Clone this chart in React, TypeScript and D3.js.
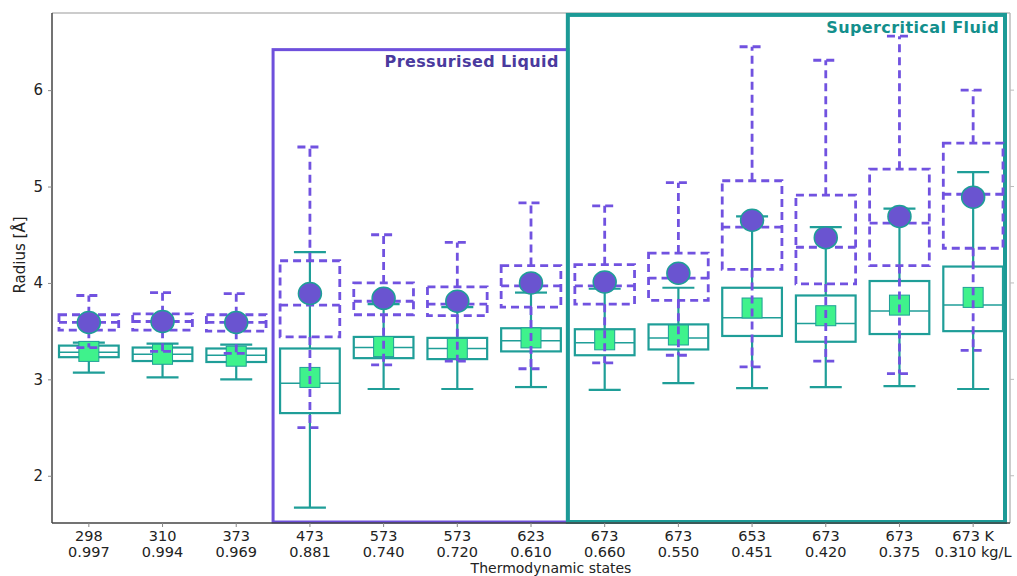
import React, { useEffect, useRef } from 'react';
import * as d3 from 'd3';

// thermodynamic states (temperature / density)
const temperatures = ['298', '310', '373', '473', '573', '573', '623', '673', '673', '653', '673', '673', '673 K'];
const densities = ['0.997', '0.994', '0.969', '0.881', '0.740', '0.720', '0.610', '0.660', '0.550', '0.451', '0.420', '0.375', '0.310 kg/L'];

// solid teal box plots
const tealLow = [3.07, 3.02, 3.00, 1.67, 2.90, 2.90, 2.92, 2.89, 2.96, 2.91, 2.92, 2.93, 2.90];
const tealQ1 = [3.23, 3.19, 3.18, 2.65, 3.22, 3.21, 3.29, 3.25, 3.31, 3.45, 3.39, 3.47, 3.50];
const tealMedian = [3.28, 3.26, 3.25, 2.96, 3.33, 3.32, 3.40, 3.38, 3.43, 3.64, 3.58, 3.71, 3.77];
const tealQ3 = [3.35, 3.33, 3.32, 3.32, 3.44, 3.43, 3.53, 3.52, 3.57, 3.95, 3.87, 4.02, 4.17];
const tealHigh = [3.38, 3.37, 3.36, 4.32, 3.78, 3.75, 3.90, 3.94, 3.95, 4.69, 4.58, 4.77, 5.15];
const tealMean = [3.29, 3.26, 3.24, 3.02, 3.34, 3.32, 3.43, 3.41, 3.46, 3.74, 3.66, 3.77, 3.85];

// dashed purple box plots
const purpleLow = [3.33, 3.29, 3.27, 2.50, 3.15, 3.19, 3.11, 3.17, 3.25, 3.13, 3.19, 3.06, 3.30];
const purpleQ1 = [3.51, 3.51, 3.50, 3.44, 3.67, 3.66, 3.75, 3.78, 3.82, 4.14, 3.99, 4.18, 4.36];
const purpleMedian = [3.59, 3.60, 3.59, 3.77, 3.81, 3.78, 3.97, 3.97, 4.05, 4.58, 4.37, 4.62, 4.92];
const purpleQ3 = [3.67, 3.68, 3.67, 4.23, 4.00, 3.96, 4.18, 4.19, 4.31, 5.06, 4.91, 5.18, 5.45];
const purpleHigh = [3.87, 3.90, 3.89, 5.41, 4.50, 4.42, 4.83, 4.80, 5.04, 6.45, 6.31, 6.56, 6.00];
const purpleMean = [3.59, 3.60, 3.59, 3.89, 3.84, 3.81, 4.00, 4.01, 4.10, 4.65, 4.47, 4.69, 4.89];

const yTicks = [2, 3, 4, 5, 6];

// phase regions: first / last state index and top value
const regionNames = ['Pressurised Liquid', 'Supercritical Fluid'];
const regionStart = [3, 7];
const regionEnd = [6, 12];
const regionTop = [6.42, 6.78];

const TEAL = '#1f9e98';
const PURPLE = '#7152e0';
const FONT = 'DejaVu Sans, sans-serif';

function App() {
  const ref = useRef<SVGSVGElement>(null);

  useEffect(() => {
    const width = 1017;
    const height = 576;
    const margin = { top: 13, right: 7, bottom: 53, left: 52 };

    const svg = d3.select(ref.current);
    svg.selectAll('*').remove();

    const idx = temperatures.map((_, i) => i);
    const x = d3.scaleBand<number>()
      .domain(idx)
      .range([margin.left, width - margin.right])
      .padding(0);
    const bw = x.bandwidth();
    const cx = (i: number) => (x(i) as number) + bw / 2;

    const y = d3.scaleLinear()
      .domain([1.51, 6.8])
      .range([height - margin.bottom, margin.top]);

    // spines
    const top = margin.top, bottom = height - margin.bottom;
    const left = margin.left, right = width - margin.right;
    svg.append('line').attr('x1', left).attr('x2', right).attr('y1', top).attr('y2', top)
      .attr('stroke', '#bbb').attr('stroke-width', 1.5);
    svg.append('line').attr('x1', right).attr('x2', right).attr('y1', top).attr('y2', bottom)
      .attr('stroke', '#bbb').attr('stroke-width', 1.5);
    yTicks.forEach(t => {
      svg.append('line').attr('x1', right).attr('x2', right + 4).attr('y1', y(t)).attr('y2', y(t))
        .attr('stroke', '#bbb');
    });

    // phase regions
    regionNames.forEach((name, r) => {
      const x0 = x(regionStart[r]) as number;
      const x1 = (x(regionEnd[r]) as number) + bw - (r === 1 ? 5 : 0);
      const color = r === 0 ? '#6e50dc' : '#1c9a96';
      svg.append('rect')
        .attr('x', x0).attr('y', y(regionTop[r]))
        .attr('width', x1 - x0).attr('height', bottom - 1 - y(regionTop[r]))
        .attr('fill', 'none').attr('stroke', color).attr('stroke-width', r === 0 ? 3 : 4);
      svg.append('text')
        .attr('x', x1 - (r === 0 ? 9 : 6))
        .attr('y', y(regionTop[r]) + (r === 0 ? 17 : 18))
        .attr('text-anchor', 'end')
        .attr('font-family', FONT).attr('font-weight', 'bold').attr('font-size', 16)
        .attr('letter-spacing', 0.4)
        .attr('fill', r === 0 ? '#4a3a9e' : '#138f8c')
        .text(name);
    });

    const boxW = bw * 0.81;

    const drawBoxes = (low: number[], q1: number[], med: number[], q3: number[], high: number[],
      color: string, dash: string | null, capW: number, lw: number) => {
      const g = svg.append('g').attr('fill', 'none').attr('stroke', color);
      if (dash) g.attr('stroke-dasharray', dash);
      idx.forEach(i => {
        const c = cx(i);
        g.append('line').attr('x1', c).attr('x2', c).attr('y1', y(q3[i])).attr('y2', y(high[i]))
          .attr('stroke-width', lw);
        g.append('line').attr('x1', c).attr('x2', c).attr('y1', y(q1[i])).attr('y2', y(low[i]))
          .attr('stroke-width', lw);
        g.append('line').attr('x1', c - capW / 2).attr('x2', c + capW / 2)
          .attr('y1', y(high[i])).attr('y2', y(high[i])).attr('stroke-width', lw);
        g.append('line').attr('x1', c - capW / 2).attr('x2', c + capW / 2)
          .attr('y1', y(low[i])).attr('y2', y(low[i])).attr('stroke-width', lw);
        g.append('rect').attr('x', c - boxW / 2).attr('y', y(q3[i]))
          .attr('width', boxW).attr('height', y(q1[i]) - y(q3[i]))
          .attr('stroke-width', lw);
        g.append('line').attr('x1', c - boxW / 2).attr('x2', c + boxW / 2)
          .attr('y1', y(med[i])).attr('y2', y(med[i])).attr('stroke-width', dash ? lw : 1.5);
      });
    };

    drawBoxes(tealLow, tealQ1, tealMedian, tealQ3, tealHigh, TEAL, null, 32, 2.2);

    // means of the solid series
    svg.append('g').selectAll('rect').data(idx).join('rect')
      .attr('x', i => cx(i) - 10).attr('y', i => y(tealMean[i]) - 10)
      .attr('width', 20).attr('height', 20)
      .attr('fill', '#3ff28c').attr('stroke', TEAL).attr('stroke-width', 1);

    drawBoxes(purpleLow, purpleQ1, purpleMedian, purpleQ3, purpleHigh, PURPLE, '8,5', 25, 2.8);

    // means of the dashed series
    svg.append('g').selectAll('ellipse').data(idx).join('ellipse')
      .attr('cx', cx).attr('cy', i => y(purpleMean[i]))
      .attr('rx', 11.5).attr('ry', 11)
      .attr('fill', '#6a54d0').attr('stroke', TEAL).attr('stroke-width', 1.5);

    // left and bottom axes
    const yAxis = svg.append('g').attr('transform', `translate(${left},0)`)
      .call(d3.axisLeft(y).tickValues(yTicks).tickSize(4).tickFormat(d3.format('d')));
    yAxis.select('.domain').attr('stroke', '#444').attr('stroke-width', 1.5)
      .attr('d', `M0,${top}V${bottom}`);
    yAxis.selectAll('.tick line').attr('stroke', '#888');
    yAxis.selectAll('.tick text').attr('font-family', FONT).attr('font-size', 15)
      .attr('fill', '#222').attr('dx', -2);

    const xAxis = svg.append('g').attr('transform', `translate(0,${bottom})`)
      .call(d3.axisBottom(x).tickSize(4).tickFormat(() => ''));
    xAxis.select('.domain').attr('stroke', '#444').attr('stroke-width', 1.5)
      .attr('d', `M${left},0H${right}`);
    xAxis.selectAll('.tick line').attr('stroke', '#888');
    xAxis.selectAll('.tick').each(function (d) {
      const i = d as number;
      const g = d3.select(this);
      g.append('text').attr('y', 17.5)
        .attr('text-anchor', 'middle').attr('font-family', FONT).attr('font-size', 14.5)
        .attr('fill', '#222').text(temperatures[i]);
      g.append('text').attr('y', 34)
        .attr('text-anchor', 'middle').attr('font-family', FONT).attr('font-size', 14.5)
        .attr('fill', '#222').text(densities[i]);
    });

    svg.append('text')
      .attr('x', (left + right) / 2 + 20).attr('y', 573)
      .attr('text-anchor', 'middle').attr('font-family', FONT).attr('font-size', 14)
      .attr('fill', '#222').text('Thermodynamic states');

    svg.append('text')
      .attr('transform', `translate(25,${255}) rotate(-90)`)
      .attr('text-anchor', 'middle').attr('font-family', FONT).attr('font-size', 15)
      .attr('fill', '#222').text('Radius [Å]');
  }, []);

  return (
    <svg ref={ref} width={1017} height={576}
      style={{ position: 'absolute', left: 0, top: 0, background: '#fff' }} />
  );
}

export default App;
